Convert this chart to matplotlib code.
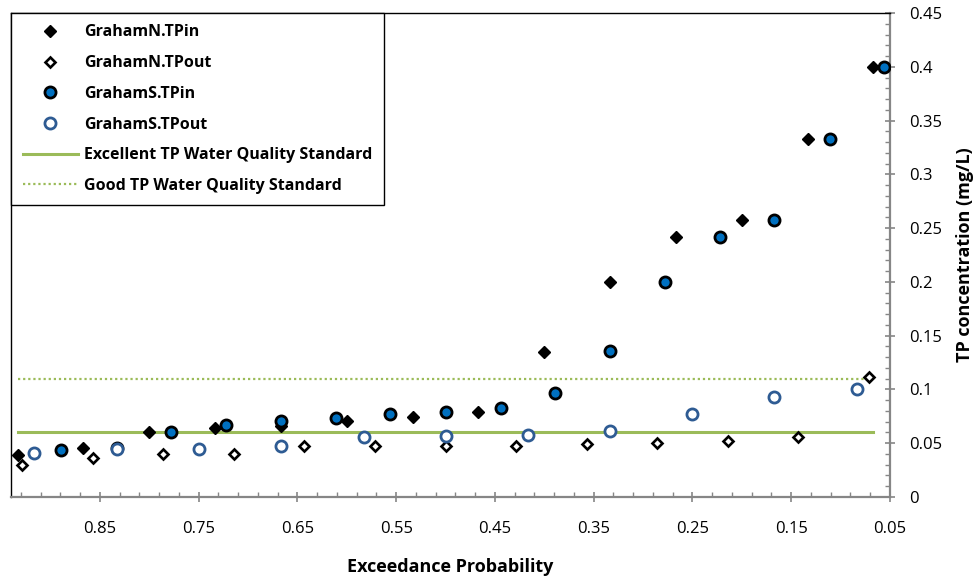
import matplotlib
matplotlib.use("Agg")
import matplotlib.pyplot as plt
from matplotlib.ticker import FixedLocator, FuncFormatter, MultipleLocator

plt.rcParams['font.family'] = ['Open Sans', 'DejaVu Sans']

# exceedance probability / TP concentration (mg/L) for each station
north_in_p = [0.933, 0.867, 0.800, 0.733, 0.667, 0.600, 0.533,
              0.467, 0.400, 0.333, 0.267, 0.200, 0.133, 0.067]
north_in_tp = [0.039, 0.046, 0.060, 0.064, 0.066, 0.071, 0.074,
               0.079, 0.135, 0.200, 0.242, 0.258, 0.333, 0.400]

north_out_p = [0.929, 0.857, 0.786, 0.714, 0.643, 0.571, 0.500,
               0.429, 0.357, 0.286, 0.214, 0.143, 0.071]
north_out_tp = [0.030, 0.036, 0.040, 0.040, 0.047, 0.047, 0.047,
                0.047, 0.049, 0.050, 0.052, 0.056, 0.112]

south_in_p = [0.889, 0.833, 0.778, 0.722, 0.667, 0.611, 0.556, 0.500,
              0.444, 0.389, 0.333, 0.278, 0.222, 0.167, 0.111, 0.056]
south_in_tp = [0.044, 0.046, 0.060, 0.067, 0.071, 0.073, 0.077, 0.079,
               0.083, 0.097, 0.136, 0.200, 0.242, 0.258, 0.333, 0.400]

south_out_p = [0.917, 0.833, 0.750, 0.667, 0.583, 0.500,
               0.417, 0.333, 0.250, 0.167, 0.083]
south_out_tp = [0.041, 0.045, 0.045, 0.047, 0.056, 0.057,
                0.058, 0.061, 0.077, 0.093, 0.100]

# water quality standards, drawn across the GrahamN.TPin range
standard_p = [0.933, 0.067]
excellent_tp = 0.06
good_tp = 0.11

x_ticks = [0.85, 0.75, 0.65, 0.55, 0.45, 0.35, 0.25, 0.15, 0.05]

green = '#9BBB59'
axis_grey = '#868686'

fig = plt.figure(figsize=(9.77, 5.84), dpi=100)
ax = fig.add_axes([11 / 977, 1 - 497 / 584, 879 / 977, 484 / 584])

ax.plot(north_in_p, north_in_tp, 'D', ms=6.2, color='black', mec='black',
        mew=1.0, label='GrahamN.TPin', zorder=3)
ax.plot(north_out_p, north_out_tp, 'D', ms=5.6, mfc='white', mec='black',
        mew=1.9, label='GrahamN.TPout', zorder=3)
ax.plot(south_in_p, south_in_tp, 'o', ms=8.0, mfc='#0070C0', mec='black',
        mew=2.0, label='GrahamS.TPin', zorder=4)
ax.plot(south_out_p, south_out_tp, 'o', ms=8.0, mfc='white', mec='#2E5B93',
        mew=2.0, label='GrahamS.TPout', zorder=4)
ax.plot(standard_p, [excellent_tp] * 2, color=green, lw=2.2,
        label='Excellent TP Water Quality Standard', zorder=2)
ax.plot(standard_p, [good_tp] * 2, color=green, lw=1.6,
        linestyle=(0, (1, 1.3)), label='Good TP Water Quality Standard', zorder=2)

ax.set_xlim(0.94, 0.05)
ax.set_ylim(0, 0.45)

ax.xaxis.set_major_locator(FixedLocator(x_ticks))
ax.xaxis.set_minor_locator(FixedLocator([0.05 + 0.02 * i for i in range(45)]))
ax.xaxis.set_major_formatter(FuncFormatter(lambda v, pos: '%g' % round(v, 2)))

ax.yaxis.tick_right()
ax.yaxis.set_label_position('right')
ax.yaxis.set_major_locator(MultipleLocator(0.05))
ax.yaxis.set_minor_locator(MultipleLocator(0.01))
ax.yaxis.set_major_formatter(FuncFormatter(lambda v, pos: '%g' % round(v, 2)))

ax.tick_params(which='major', direction='inout', length=7, width=1.2,
               color=axis_grey, labelsize=12, labelcolor='black')
ax.tick_params(axis='x', which='major', pad=14)
ax.tick_params(axis='y', which='major', pad=10)
ax.tick_params(which='minor', direction='in', length=3.5, width=1.0,
               color=axis_grey)

for side in ('top', 'left'):
    ax.spines[side].set_color('black')
    ax.spines[side].set_linewidth(1.0)
for side in ('bottom', 'right'):
    ax.spines[side].set_color(axis_grey)
    ax.spines[side].set_linewidth(1.6)

ax.set_xlabel('Exceedance Probability', fontsize=13, fontweight='bold')
ax.xaxis.set_label_coords(0.5, -0.125)
ax.set_ylabel('TP concentration (mg/L)', fontsize=13, fontweight='bold')
ax.yaxis.set_label_coords(1.075, 0.5)

leg = ax.legend(loc='upper left', bbox_to_anchor=(0, 1), borderaxespad=0,
                fancybox=False, framealpha=1, edgecolor='black',
                prop={'size': 11.5, 'weight': 'bold'}, handlelength=3.5,
                handletextpad=0.35, labelspacing=0.92, borderpad=0.72)
leg.get_frame().set_linewidth(1.0)

fig.savefig('out.png', dpi=100)
